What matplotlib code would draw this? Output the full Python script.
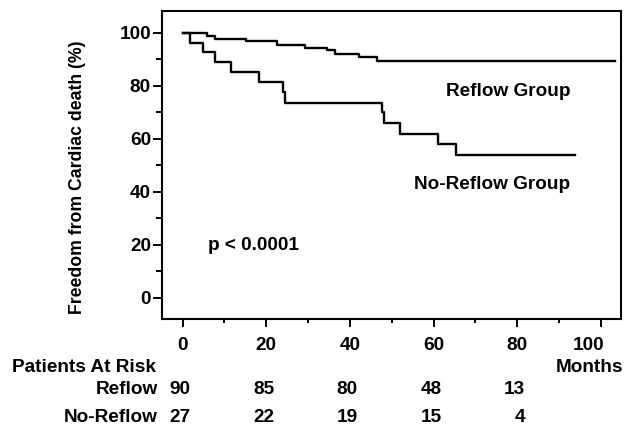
import numpy as np
import matplotlib
matplotlib.use("Agg")
import matplotlib.pyplot as plt
from matplotlib.transforms import blended_transform_factory, ScaledTranslation

plt.rcParams['font.family'] = ['Liberation Sans', 'DejaVu Sans']
plt.rcParams['font.weight'] = 'bold'
FS = 13.7

# Kaplan-Meier step data (months, % free from cardiac death)
reflow_t = [0, 5.8, 7.7, 15.2, 22.5, 29.3, 34.6, 36.5, 42.1, 46.4, 103.3]
reflow_s = [100, 98.9, 97.8, 96.7, 95.5, 94.4, 93.3, 91.9, 90.8, 89.3, 89.3]
noreflow_t = [0, 1.7, 4.8, 7.7, 11.5, 18.4, 23.9, 24.4, 47.6, 48.1, 51.9, 61.1, 65.3, 93.7]
noreflow_s = [100, 96.3, 92.6, 88.9, 85.2, 81.5, 77.8, 73.6, 70.0, 65.9, 61.7, 57.9, 53.7, 53.7]

# patients at risk table
risk_months = [0, 20, 40, 60, 80]
risk_reflow = [90, 85, 80, 48, 13]
risk_noreflow = [27, 22, 19, 15, 4]

fig = plt.figure(figsize=(6.39, 4.26), dpi=100)
ax = fig.add_axes([162/639, 1 - 319/426, 459/639, 308/426])

ax.step(reflow_t, reflow_s, where='post', color='black', lw=1.7)
ax.step(noreflow_t, noreflow_s, where='post', color='black', lw=1.7)

ax.set_xlim(-4.9, 104.8)
ax.set_ylim(-8.1, 108.2)
for s in ax.spines.values():
    s.set_linewidth(1.5)

ax.set_xticks(np.arange(0, 101, 20))
ax.set_xticks(np.arange(10, 100, 20), minor=True)
ax.set_yticks(np.arange(0, 101, 20))
ax.set_yticks(np.arange(10, 100, 20), minor=True)
ax.tick_params(axis='x', which='major', direction='out', length=5.5, width=1.4,
               labelsize=FS, pad=7.5)
ax.tick_params(axis='x', which='minor', direction='out', length=3, width=1.4)
ax.tick_params(axis='y', which='major', direction='out', length=6.5, width=1.4,
               labelsize=FS, pad=1.5)
ax.tick_params(axis='y', which='minor', direction='out', length=4.5, width=1.4)
for lab in ax.get_xticklabels() + ax.get_yticklabels():
    lab.set_fontweight('bold')
# the "100" label sits a little left of its tick
last = ax.get_xticklabels()[-1]
last.set_transform(last.get_transform() + ScaledTranslation(-0.12, 0, fig.dpi_scale_trans))

ax.set_ylabel('Freedom from Cardiac death (%)', fontsize=12.7, fontweight='bold')
ax.yaxis.set_label_coords(-0.165, 0.459)

ax.text(62.9, 76.2, 'Reflow Group', fontsize=FS, fontweight='bold', va='baseline')
ax.text(55.3, 41.0, 'No-Reflow Group', fontsize=FS, fontweight='bold', va='baseline')
ax.text(6.1, 18.0, 'p < 0.0001', fontsize=FS, fontweight='bold', va='baseline')

# table under the axis
tr = blended_transform_factory(ax.transData, fig.transFigure)
fig.text(12/639, 1 - 372/426, 'Patients At Risk', fontsize=FS, fontweight='bold', va='baseline')
fig.text(623/639, 1 - 372/426, 'Months', fontsize=FS, fontweight='bold', va='baseline', ha='right')
fig.text(158/639, 1 - 394.3/426, 'Reflow', fontsize=FS, fontweight='bold', va='baseline', ha='right')
fig.text(158/639, 1 - 422.3/426, 'No-Reflow', fontsize=FS, fontweight='bold', va='baseline', ha='right')
for m, a, b in zip(risk_months, risk_reflow, risk_noreflow):
    ax.text(m + 1.9, 1 - 394.3/426, str(a), transform=tr, fontsize=FS, fontweight='bold',
            va='baseline', ha='right', clip_on=False)
    ax.text(m + 1.9, 1 - 422.3/426, str(b), transform=tr, fontsize=FS, fontweight='bold',
            va='baseline', ha='right', clip_on=False)

plt.savefig('out.png', dpi=100)
